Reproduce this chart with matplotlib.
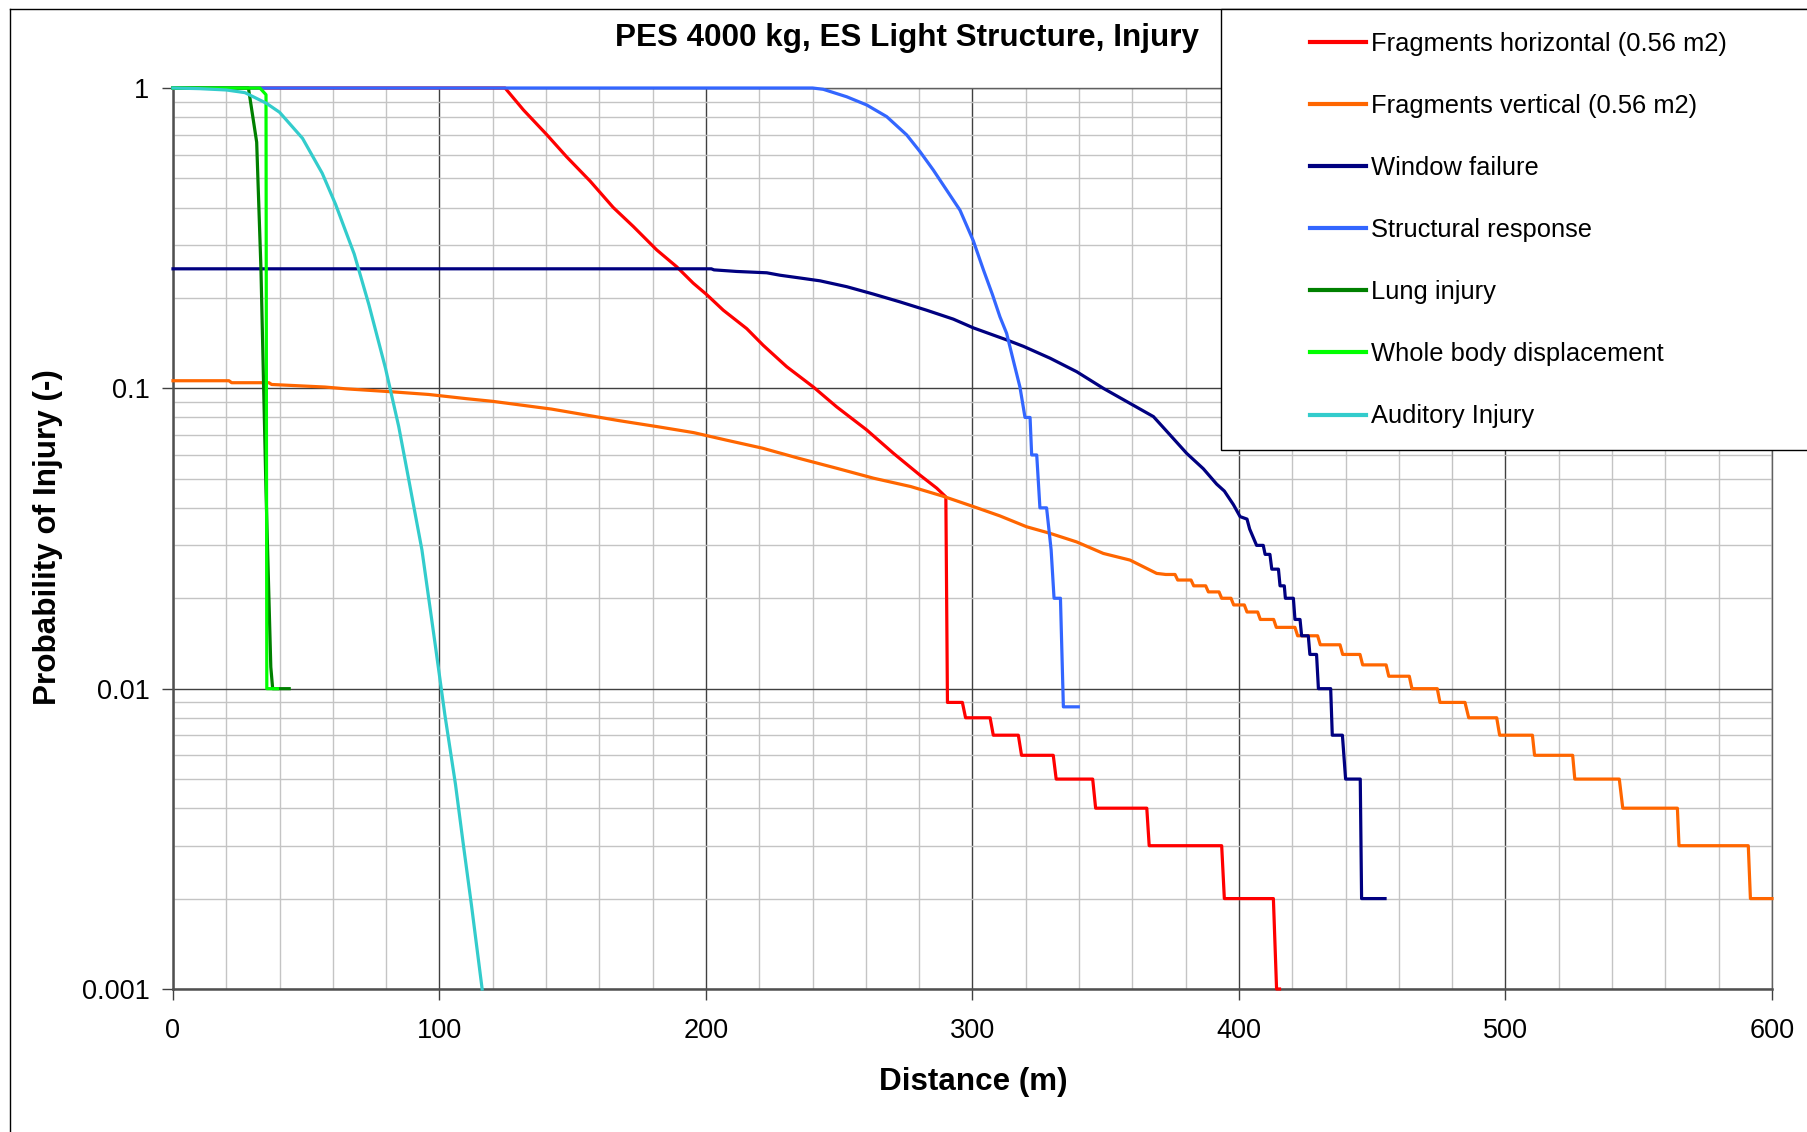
import matplotlib
matplotlib.use("Agg")
import matplotlib.pyplot as plt
from matplotlib.ticker import MultipleLocator, LogLocator, FixedLocator, FixedFormatter, NullFormatter
from matplotlib.patches import Rectangle
from matplotlib.lines import Line2D

plt.rcParams['font.family'] = ['Liberation Sans', 'DejaVu Sans']

# distances (m) and probability of injury (-)
frag_h_d = [0, 124.6, 131.5, 140.2, 147.7, 156.5, 165.2, 172.7, 181.5, 189.0,
            195.2, 200.3, 206.5, 215.3, 221.5, 230.3, 240.3, 249.0, 260.3, 270.3,
            280.3, 286.6, 290.0, 290.6, 296.2, 297.4, 306.6, 307.8, 317.2, 318.4,
            330.3, 331.4, 345.1, 346.2, 365.4, 366.3, 393.5, 394.5, 412.9, 414.1, 415.2]
frag_h_p = [1, 1, 0.845, 0.70, 0.59, 0.49, 0.40, 0.346, 0.289, 0.254,
            0.224, 0.205, 0.182, 0.158, 0.139, 0.118, 0.101, 0.0868, 0.0727, 0.0608,
            0.0514, 0.0465, 0.0435, 0.009, 0.009, 0.008, 0.008, 0.007, 0.007, 0.006,
            0.006, 0.005, 0.005, 0.004, 0.004, 0.003, 0.003, 0.002, 0.002, 0.001, 0.001]

frag_v_d = [0, 21, 22, 36, 37, 57, 65, 82, 96, 110,
            120, 130, 142, 155.7, 167.6, 181.5, 195.4, 207.4, 221.2, 235.1,
            249, 262.9, 276.8, 288.7, 300.3, 310.3, 320.3, 329.1, 339.1, 349.1,
            359.1, 369.1, 372.5, 376, 377, 382, 383, 387.5, 388.5, 392.5,
            393.5, 397, 398, 402, 403, 407, 408, 413, 414, 421,
            422, 429.5, 430.5, 437.9, 438.9, 445.4, 446.4, 455.2, 456.2, 463.9,
            464.9, 474.4, 475.4, 484.8, 486.2, 496.7, 497.8, 510.1, 510.9, 525.2,
            526.0, 542.7, 544.0, 564.5, 565.1, 591.1, 591.9, 600]
frag_v_p = [0.106, 0.106, 0.1044, 0.1044, 0.103, 0.101, 0.0996, 0.0974, 0.0954, 0.0924,
            0.0905, 0.0881, 0.0853, 0.0813, 0.078, 0.0746, 0.0712, 0.0673, 0.0632, 0.0584,
            0.0542, 0.0502, 0.0471, 0.0438, 0.0404, 0.0376, 0.0346, 0.0329, 0.0308, 0.0282,
            0.0268, 0.0242, 0.024, 0.024, 0.023, 0.023, 0.022, 0.022, 0.021, 0.021,
            0.020, 0.020, 0.019, 0.019, 0.018, 0.018, 0.017, 0.017, 0.016, 0.016,
            0.015, 0.015, 0.014, 0.014, 0.013, 0.013, 0.012, 0.012, 0.011, 0.011,
            0.010, 0.010, 0.009, 0.009, 0.008, 0.008, 0.007, 0.007, 0.006, 0.006,
            0.005, 0.005, 0.004, 0.004, 0.003, 0.003, 0.002, 0.002]

window_d = [0, 202, 203, 211.5, 222.8, 227.8, 235.3, 242.8, 252.8, 262.8,
            272.8, 282.8, 292.8, 300.3, 312.8, 319.1, 329.1, 339.1, 349.1, 359.1,
            367.9, 374.1, 380.4, 386.6, 391.6, 394.5, 397.9, 400.4, 403.0, 404.0,
            406.6, 409.1, 409.8, 411.6, 412.3, 414.8, 415.4, 417.0, 417.4, 420.4,
            421.0, 422.9, 423.5, 426.0, 426.6, 429.1, 429.8, 434.4, 435.0, 438.8,
            440.0, 445.5, 446.0, 454.8]
window_p = [0.25, 0.25, 0.248, 0.245, 0.2425, 0.238, 0.233, 0.228, 0.218, 0.206,
            0.194, 0.182, 0.170, 0.159, 0.145, 0.138, 0.126, 0.1136, 0.100, 0.0891,
            0.0805, 0.070, 0.0607, 0.054, 0.048, 0.0455, 0.041, 0.0374, 0.0367, 0.034,
            0.030, 0.030, 0.028, 0.028, 0.025, 0.025, 0.022, 0.022, 0.020, 0.020,
            0.017, 0.017, 0.015, 0.015, 0.013, 0.013, 0.010, 0.010, 0.007, 0.007,
            0.005, 0.005, 0.002, 0.002]

struct_d = [0, 240, 244, 252.8, 260.3, 267.8, 275.3, 280.3, 285.3, 290.3,
            295.3, 300.3, 304.1, 307.5, 310.3, 312.8, 315.2, 317.8, 319.7, 321.6,
            322.2, 324.1, 325.3, 327.8, 329.5, 330.6, 333.0, 334.1, 339.7]
struct_p = [1, 1, 0.99, 0.935, 0.878, 0.803, 0.698, 0.614, 0.533, 0.457,
            0.392, 0.31, 0.248, 0.205, 0.173, 0.1525, 0.125, 0.101, 0.080, 0.080,
            0.060, 0.060, 0.040, 0.040, 0.029, 0.020, 0.020, 0.0087, 0.0087]

lung_d = [0, 28.3, 31.4, 33.0, 34.9, 36.7, 37.4, 43.6]
lung_p = [1, 1, 0.66, 0.25, 0.0455, 0.0118, 0.01, 0.01]

body_d = [0, 32.6, 34.9, 35.2, 39.2]
body_p = [1, 1, 0.95, 0.01, 0.01]

audit_d = [0, 10, 20, 27, 35, 40, 48.6, 56, 61, 68,
           73.5, 79.7, 84.7, 88.4, 93.4, 98.4, 102, 106, 109, 112, 116]
audit_p = [1, 0.995, 0.985, 0.965, 0.89, 0.83, 0.68, 0.52, 0.41, 0.28,
           0.19, 0.117, 0.0746, 0.050, 0.029, 0.014, 0.0082, 0.0048, 0.0030, 0.0019, 0.001]

series = [
    (frag_h_d, frag_h_p, '#FF0000', 'Fragments horizontal (0.56 m2)'),
    (frag_v_d, frag_v_p, '#FF6600', 'Fragments vertical (0.56 m2)'),
    (window_d, window_p, '#000080', 'Window failure'),
    (struct_d, struct_p, '#3366FF', 'Structural response'),
    (lung_d, lung_p, '#008000', 'Lung injury'),
    (body_d, body_p, '#00FF00', 'Whole body displacement'),
    (audit_d, audit_p, '#33CCCC', 'Auditory Injury'),
]

W, H = 1808, 1132
fig = plt.figure(figsize=(W / 100, H / 100), dpi=100)
ax = fig.add_axes([173 / W, 1 - 989 / H, (1772 - 173) / W, (989 - 88) / H])

handles = []
for d, p, c, lab in series:
    ln, = ax.plot(d, p, color=c, lw=2.3, label=lab, clip_on=False, zorder=3)
    handles.append(ln)

ax.set_yscale('log')
ax.set_xlim(0, 600)
ax.set_ylim(0.001, 1)

ax.xaxis.set_major_locator(MultipleLocator(100))
ax.xaxis.set_minor_locator(MultipleLocator(20))
ax.yaxis.set_major_locator(FixedLocator([0.001, 0.01, 0.1, 1]))
ax.yaxis.set_major_formatter(FixedFormatter(['0.001', '0.01', '0.1', '1']))
ax.yaxis.set_minor_locator(LogLocator(base=10, subs=range(2, 10)))
ax.yaxis.set_minor_formatter(NullFormatter())

ax.grid(which='minor', color='#c4c4c4', lw=1.0, zorder=0)
ax.grid(which='major', color='#404040', lw=1.0, zorder=0)
ax.set_axisbelow(True)

ax.tick_params(which='major', direction='out', length=8, width=1, color='#404040',
               labelsize=19.5)
ax.tick_params(axis='x', pad=13)
ax.tick_params(axis='y', pad=9)
ax.tick_params(which='minor', length=0)

for s in ['left', 'bottom']:
    ax.spines[s].set_color('#505050')
    ax.spines[s].set_linewidth(1.8)
for s in ['top', 'right']:
    ax.spines[s].set_color('#606060')
    ax.spines[s].set_linewidth(1.0)

fig.text(1199 / W, 1 - 38 / H, 'PES 4000 kg, ES Light Structure, Injury',
         ha='right', va='center', fontsize=22.6, fontweight='bold')
fig.text(973 / W, 1 - 1082 / H, 'Distance (m)', ha='center', va='center',
         fontsize=22.6, fontweight='bold')
fig.text(48 / W, 1 - 537 / H, 'Probability of Injury (-)', ha='center', va='center',
         rotation=90, fontsize=22.6, fontweight='bold')

# chart frame (left and top edges visible)
fig.add_artist(Line2D([9.5 / W, 9.5 / W], [0, 1 - 9 / H], transform=fig.transFigure,
                      color='black', lw=1))
fig.add_artist(Line2D([9.5 / W, 1], [1 - 9 / H, 1 - 9 / H], transform=fig.transFigure,
                      color='black', lw=1))

# legend box running off the right edge
fig.add_artist(Rectangle((1221 / W, 1 - 450 / H), (1840 - 1221) / W, (450 - 9) / H,
                         transform=fig.transFigure, facecolor='white',
                         edgecolor='black', lw=1, zorder=2))
leg = fig.legend(handles=handles, loc='upper left',
                 bbox_to_anchor=(1310 / W, 1 - 32 / H), frameon=False,
                 fontsize=18.4, handlelength=2.2, handletextpad=0.2,
                 labelspacing=1.49, borderpad=0, borderaxespad=0)
leg.set_zorder(5)
for h in leg.legend_handles:
    h.set_linewidth(3)

fig.savefig('out.png', dpi=100)
